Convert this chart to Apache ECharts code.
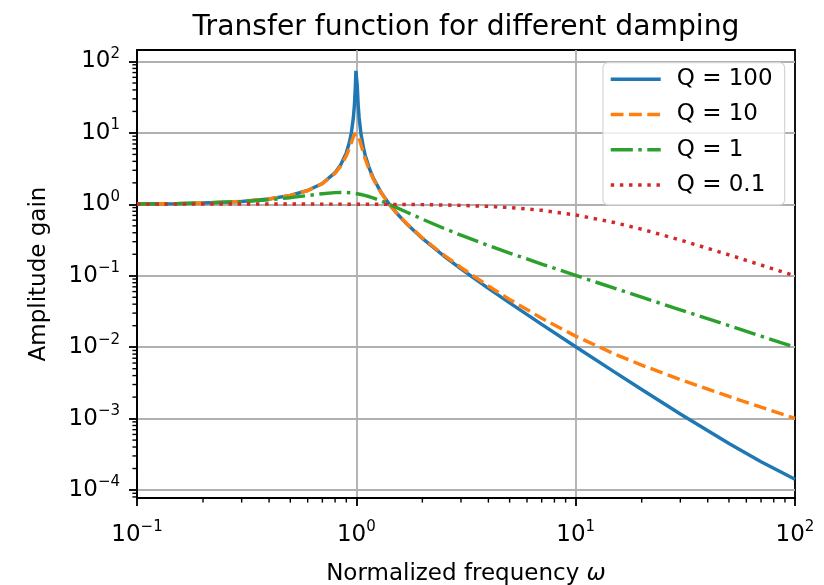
<!DOCTYPE html>
<html>
<head>
<meta charset="utf-8">
<script src="https://cdn.jsdelivr.net/npm/echarts@6/dist/echarts.min.js"></script>
<style>
  html, body { margin: 0; padding: 0; background: #fff; }
  #chart { width: 824px; height: 585px; }
</style>
</head>
<body>
<div id="chart"></div>
<script>
// normalized frequency samples
const freq = [0.1, 0.15, 0.2, 0.3, 0.4, 0.5, 0.6, 0.7, 0.8, 0.85, 0.9, 0.93, 0.95, 0.97, 0.98, 0.99, 0.9954,
  1.0093, 1.02, 1.03, 1.05, 1.08, 1.1, 1.15, 1.2, 1.3, 1.4142, 1.5, 1.7, 2, 2.5, 3, 4, 5, 7, 10, 15, 20, 30, 50, 70, 100];

const gainQ100 = [1.0101, 1.0230, 1.0417, 1.0989, 1.1905, 1.3333, 1.5625, 1.9606, 2.7772, 3.6020, 5.2575, 7.3848, 10.209,
  16.698, 24.514, 44.993, 73.83, 47.2, 24.001, 16.191, 9.7058, 5.9973, 4.7556, 3.0990, 2.2721, 1.4491, 1.0, 0.8000,
  0.5292, 0.3334, 0.19053, 0.12506, 0.06672, 0.04172, 0.020884, 0.010151, 0.0045142, 0.0025559, 0.0011613,
  4.4739e-4, 2.4916e-4, 1.4144e-4];

const gainQ10 = [1.0101, 1.0230, 1.0416, 1.0988, 1.1901, 1.3320, 1.5585, 1.9473, 2.7203, 3.4580, 4.7757, 6.1233, 7.3790,
  8.8452, 9.5062, 9.9513, 10.053, 9.793, 9.1623, 8.4014, 6.8524, 5.0702, 4.2437, 2.9399, 2.2084, 1.4362, 1.0, 0.8032,
  0.5345, 0.3392, 0.19612, 0.13041, 0.07178, 0.04657, 0.025428, 0.014284, 0.0080480, 0.0056041, 0.0035176,
  0.0020404, 0.0014434, 0.0010051];

const gainQ1 = [1.0100, 1.0225, 1.0400, 1.0896, 1.1576, 1.2403, 1.3293, 1.4094, 1.4598, 1.4678, 1.4626, 1.4532, 1.4443,
  1.4336, 1.4276, 1.4211, 1.4174, 1.4075, 1.3993, 1.3913, 1.3744, 1.3470, 1.3275, 1.2760, 1.2222, 1.1144, 1.0, 0.9233,
  0.7759, 0.6202, 0.4631, 0.3701, 0.2656, 0.2080, 0.14577, 0.10100, 0.066963, 0.050125, 0.033370, 0.020008,
  0.014289, 0.010001];

const gainQ01 = [1.0050, 1.0069, 1.0079, 1.0087, 1.0088, 1.0085, 1.0081, 1.0075, 1.0068, 1.0064, 1.0059, 1.0057, 1.0055,
  1.0054, 1.0052, 1.0051, 1.0050, 1.0049, 1.0048, 1.0047, 1.0045, 1.0042, 1.0039, 1.0034, 1.0028, 1.0015, 1.0, 0.9988,
  0.9956, 0.9902, 0.9794, 0.9668, 0.9366, 0.9017, 0.8248, 0.7107, 0.5564, 0.4481, 0.31654, 0.19619, 0.14145, 0.099514];

const seriesNames = ['Q = 100', 'Q = 10', 'Q = 1', 'Q = 0.1'];
const seriesGains = [gainQ100, gainQ10, gainQ1, gainQ01];
const colors = ['#1f77b4', '#ff7f0e', '#2ca02c', '#d62728'];
const dashes = ['solid', [12.8, 5.5], [22.1, 5.5, 3.45, 5.5], [3.45, 5.7]];

// axis range and minor tick multipliers
const xMin = 0.1, xMax = 100;
const yMin = 7.73e-5, yMax = 144.9;
const minorSteps = [2, 3, 4, 5, 6, 7, 8, 9];
const xDecades = [0.1, 1, 10];
const yDecades = [1e-5, 1e-4, 1e-3, 1e-2, 1e-1, 1, 10, 100];

const FONT = 'DejaVu Sans';

const powLabel = v => {
  const e = Math.round(Math.log10(v));
  if (Math.abs(Math.log10(v) - e) > 1e-6) return '';
  return '{b|10}{s|' + (e < 0 ? '\u2212' + (-e) : e) + '}';
};

const labelRich = {
  b: { fontSize: 23, lineHeight: 30, fontFamily: FONT, color: '#000' },
  s: { fontSize: 15, lineHeight: 20, verticalAlign: 'top', fontFamily: FONT, color: '#000' }
};

const minorTicks = [];
xDecades.forEach(d => minorSteps.forEach(k => minorTicks.push([d * k, yMin, 0])));
yDecades.forEach(d => minorSteps.forEach(k => {
  const v = d * k;
  if (v > yMin && v < yMax) minorTicks.push([xMin, v, 1]);
}));

const lineSeries = seriesNames.map((name, i) => ({
  name: name,
  type: 'line',
  data: freq.map((w, j) => [w, seriesGains[i][j]]),
  symbol: 'none',
  showSymbol: false,
  color: colors[i],
  lineStyle: { width: 3.45, type: dashes[i], cap: 'butt', color: colors[i] },
  emphasis: { disabled: true },
  animation: false
}));

const chart = echarts.init(document.getElementById('chart'));
chart.setOption({
  animation: false,
  title: {
    text: 'Transfer function for different damping',
    left: 461, top: 9, textAlign: 'center',
    textStyle: { fontFamily: FONT, fontSize: 28.2, fontWeight: 'normal', color: '#000' }
  },
  grid: {
    left: 137, right: 29, top: 50, bottom: 87,
    outerBoundsMode: 'none', containLabel: false,
    show: true, borderColor: '#000', borderWidth: 1.85, backgroundColor: 'transparent'
  },
  legend: {
    data: seriesNames,
    orient: 'vertical',
    left: 603, top: 62.7,
    itemWidth: 50, itemHeight: 26, itemGap: 9.2,
    padding: [3.6, 12, 7, 6],
    backgroundColor: 'rgba(255,255,255,0.8)',
    borderColor: '#d6d6d6', borderWidth: 1.2, borderRadius: 5,
    itemStyle: { color: 'transparent', borderColor: 'transparent', borderWidth: 0, opacity: 0 },
    lineStyle: { width: 3.45, cap: 'butt' },
    textStyle: { fontFamily: FONT, fontSize: 23, lineHeight: 26, color: '#000', padding: [0, 0, 0, 11] }
  },
  xAxis: {
    type: 'log', logBase: 10, min: xMin, max: xMax,
    name: 'Normalized frequency {i|ω}',
    nameLocation: 'middle', nameGap: 65,
    nameTextStyle: { fontFamily: FONT, fontSize: 23, color: '#000',
      rich: { i: { fontFamily: FONT, fontSize: 23, fontStyle: 'italic', color: '#000' } } },
    axisLine: { show: true, lineStyle: { color: '#000', width: 1.85 } },
    axisTick: { show: true, length: 8, lineStyle: { color: '#000', width: 1.85 } },
    axisLabel: { margin: 22, formatter: powLabel, rich: labelRich, showMinLabel: true, showMaxLabel: true },
    splitLine: { show: true, showMinLine: false, showMaxLine: false, lineStyle: { color: '#b0b0b0', width: 1.85 } }
  },
  yAxis: {
    type: 'log', logBase: 10, min: yMin, max: yMax,
    name: 'Amplitude gain',
    nameLocation: 'middle', nameGap: 86,
    nameTextStyle: { fontFamily: FONT, fontSize: 23, color: '#000' },
    axisLine: { show: true, lineStyle: { color: '#000', width: 1.85 } },
    axisTick: { show: true, length: 8, lineStyle: { color: '#000', width: 1.85 } },
    axisLabel: { margin: 17, formatter: powLabel, rich: labelRich, showMinLabel: false, showMaxLabel: false },
    splitLine: { show: true, showMinLine: false, showMaxLine: false, lineStyle: { color: '#b0b0b0', width: 1.85 } }
  },
  series: lineSeries.concat([{
    type: 'custom',
    silent: true,
    clip: false,
    z: 5,
    data: minorTicks,
    encode: { x: 0, y: 1 },
    renderItem: (params, api) => {
      const p = api.coord([api.value(0), api.value(1)]);
      const onY = api.value(2) === 1;
      return {
        type: 'line',
        shape: onY ? { x1: p[0], y1: p[1], x2: p[0] - 4.6, y2: p[1] }
                   : { x1: p[0], y1: p[1], x2: p[0], y2: p[1] + 4.6 },
        style: { stroke: '#000', lineWidth: 1.4 }
      };
    }
  }])
});
</script>
</body>
</html>
